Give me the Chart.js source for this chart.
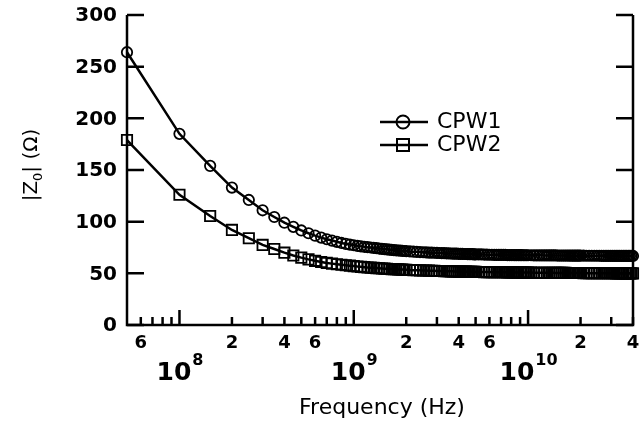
<!DOCTYPE html>
<html>
<head>
<meta charset="utf-8">
<script src="https://cdn.jsdelivr.net/npm/chart.js@4.4.0/dist/chart.umd.min.js"></script>
<style>
body { margin: 0; background: #fff; }
#wrap { width: 644px; height: 421px; }
</style>
</head>
<body>
<div id="wrap"><canvas id="myChart" width="644" height="421"></canvas></div>
<script>
// frequencies in MHz
const freqMHz = [
  50,100,150,200,250,300,350,400,450,500,550,600,650,700,750,800,850,900,950,1000,
  1050,1100,1150,1200,1250,1300,1350,1400,1450,1500,1550,1600,1650,1700,1750,1800,1850,1900,1950,2000,
  2100,2200,2300,2400,2500,2600,2700,2800,2900,3000,3100,3200,3300,3400,3500,3600,3700,3800,3900,4000,
  4100,4200,4300,4400,4500,4600,4700,4800,4900,5000,
  5200,5400,5600,5800,6000,6200,6400,6600,6800,7000,7200,7400,7600,7800,8000,8200,8400,8600,8800,9000,
  9200,9400,9600,9800,10000,
  10400,10800,11200,11600,12000,12400,12800,13200,13600,14000,14400,14800,15200,15600,16000,16400,
  16800,17200,17600,18000,18400,18800,19200,19600,20000,
  20800,21600,22400,23200,24000,24800,25600,26400,27200,28000,28800,29600,30400,31200,32000,32800,
  33600,34400,35200,36000,36800,37600,38400,39200,40000
];

const cpw1 = [
  264,185,154,133,121,111,104.5,99,95,91.5,88.8,86.5,84.6,83,81.7,80.5,79.4,78.5,77.8,77.2,
  76.6,76.1,75.7,75.3,75,74.6,74.3,74,73.7,73.4,73.2,73,72.7,72.5,72.3,72.1,71.9,71.8,71.6,71.5,
  71.2,71,70.8,70.6,70.4,70.3,70.1,70,69.9,69.8,69.7,69.6,69.5,69.4,69.3,69.2,69.1,69,69,68.9,
  68.8,68.8,68.7,68.7,68.6,68.6,68.5,68.5,68.4,68.4,
  68.3,68.3,68.2,68.1,68,68,67.9,67.9,67.9,67.8,67.8,67.8,67.7,67.7,67.7,67.7,67.6,67.6,67.6,67.6,
  67.6,67.5,67.5,67.5,67.5,
  67.5,67.4,67.4,67.4,67.4,67.3,67.3,67.3,67.3,67.3,67.3,67.2,67.2,67.2,67.2,67.2,
  67.2,67.2,67.1,67.1,67.1,67.1,67.1,67.1,67.1,
  67.1,67,67,67,67,67,67,66.9,66.9,66.9,66.9,66.9,66.9,66.9,66.9,66.8,
  66.8,66.8,66.8,66.8,66.8,66.8,66.8,66.8,66.8
];

const cpw2 = [
  179,126,105.5,92,84,77.5,73.5,70,67.3,65.2,63.5,62.1,61,60.1,59.4,58.8,58.3,57.8,57.4,57,
  56.6,56.3,56,55.7,55.5,55.3,55.1,54.9,54.7,54.5,54.4,54.2,54.1,54,53.9,53.8,53.7,53.6,53.5,53.4,
  53.2,53.1,53,52.9,52.8,52.7,52.6,52.5,52.4,52.3,52.2,52.2,52.1,52,52,51.9,51.9,51.8,51.8,51.7,
  51.7,51.6,51.6,51.6,51.5,51.5,51.5,51.4,51.4,51.4,
  51.3,51.3,51.2,51.2,51.2,51.1,51.1,51.1,51,51,51,51,50.9,50.9,50.9,50.9,50.8,50.8,50.8,50.8,
  50.8,50.7,50.7,50.7,50.7,
  50.7,50.6,50.6,50.6,50.6,50.5,50.5,50.5,50.5,50.5,50.4,50.4,50.4,50.4,50.4,50.4,
  50.3,50.3,50.3,50.3,50.3,50.3,50.3,50.3,50.3,
  50.2,50.2,50.2,50.2,50.2,50.2,50.1,50.1,50.1,50.1,50.1,50.1,50.1,50.1,50,50,
  50,50,50,50,50,50,50,50,50
];

const yTicks = [0, 50, 100, 150, 200, 250, 300];
const xMajor = [1e8, 1e9, 1e10];
const xMajorExp = ['8', '9', '10'];
const xMinor = [6e7,7e7,8e7,9e7,2e8,3e8,4e8,5e8,6e8,7e8,8e8,9e8,
                2e9,3e9,4e9,5e9,6e9,7e9,8e9,9e9,2e10,3e10,4e10];
const xMinorLabelVals = [6e7, 2e8, 4e8, 6e8, 2e9, 4e9, 6e9, 2e10, 4e10];
const xMinorLabels = ['6', '2', '4', '6', '2', '4', '6', '2', '4'];

function toPoints(values) {
    return values.map((v, i) => ({ x: freqMHz[i] * 1e6, y: v }));
}

const FONT = 'DejaVu Sans';

const axesPlugin = {
    id: 'paperAxes',
    afterDraw(chart) {
        const c = chart.ctx;
        const xs = chart.scales.x;
        const ys = chart.scales.y;
        const a = chart.chartArea;
        c.save();
        c.strokeStyle = '#000';
        c.fillStyle = '#000';
        c.lineWidth = 2.5;
        c.lineCap = 'butt';

        // frame: left, right, bottom (no top line)
        c.beginPath();
        c.moveTo(a.left, a.top); c.lineTo(a.left, a.bottom); c.lineTo(a.right, a.bottom); c.lineTo(a.right, a.top);
        c.stroke();

        // y ticks both sides
        yTicks.forEach(v => {
            const y = ys.getPixelForValue(v);
            c.beginPath();
            c.moveTo(a.left, y); c.lineTo(a.left + 17, y);
            c.moveTo(a.right, y); c.lineTo(a.right - 17, y);
            c.stroke();
        });

        // x ticks
        xMajor.forEach(v => {
            const x = xs.getPixelForValue(v);
            c.beginPath(); c.moveTo(x, a.bottom); c.lineTo(x, a.bottom - 15); c.stroke();
        });
        xMinor.forEach(v => {
            const x = xs.getPixelForValue(v);
            c.beginPath(); c.moveTo(x, a.bottom); c.lineTo(x, a.bottom - 8); c.stroke();
        });

        // y labels
        c.font = 'bold 20px "' + FONT + '"';
        c.textAlign = 'right';
        c.textBaseline = 'middle';
        yTicks.forEach(v => {
            c.fillText(String(v), a.left - 10, ys.getPixelForValue(v) + 1);
        });

        // x minor labels
        c.font = 'bold 18px "' + FONT + '"';
        c.textAlign = 'center';
        c.textBaseline = 'alphabetic';
        xMinorLabelVals.forEach((v, i) => {
            c.fillText(xMinorLabels[i], xs.getPixelForValue(v), a.bottom + 23);
        });

        // x decade labels with superscript
        const bigF = 'bold 25px "' + FONT + '"';
        const supF = 'bold 16px "' + FONT + '"';
        xMajor.forEach((v, i) => {
            const x = xs.getPixelForValue(v);
            c.font = bigF;
            const w1 = c.measureText('10').width;
            c.font = supF;
            const w2 = c.measureText(xMajorExp[i]).width;
            const start = x - (w1 + w2) / 2;
            c.textAlign = 'left';
            c.font = bigF;
            c.fillText('10', start, a.bottom + 55);
            c.font = supF;
            c.fillText(xMajorExp[i], start + w1 + 1, a.bottom + 40);
        });

        // x title
        c.font = '22px "' + FONT + '"';
        c.textAlign = 'center';
        c.fillText('Frequency (Hz)', 382, 414);

        // y title, rotated
        c.save();
        c.translate(37, 165);
        c.rotate(-Math.PI / 2);
        const big = '20px "' + FONT + '"';
        const small = '13px "' + FONT + '"';
        c.font = big; const p1 = c.measureText('|Z').width;
        c.font = small; const p2 = c.measureText('0').width;
        c.font = big; const p3 = c.measureText('| (\u03A9)').width;
        let sx = -(p1 + p2 + p3) / 2;
        c.textAlign = 'left';
        c.font = big; c.fillText('|Z', sx, 0); sx += p1;
        c.font = small; c.fillText('0', sx, 5); sx += p2;
        c.font = big; c.fillText('| (\u03A9)', sx, 0);
        c.restore();

        // legend
        const lx0 = 380, lx1 = 428, mx = 403;
        const ly = [122, 145];
        c.lineWidth = 2.5;
        ly.forEach(y => {
            c.beginPath(); c.moveTo(lx0, y); c.lineTo(lx1, y); c.stroke();
        });
        c.lineWidth = 2;
        c.beginPath(); c.arc(mx, ly[0], 6.5, 0, Math.PI * 2); c.stroke();
        c.strokeRect(mx - 6, ly[1] - 6, 12, 12);
        c.font = '22px "' + FONT + '"';
        c.textAlign = 'left';
        c.textBaseline = 'middle';
        c.fillText('CPW1', 437, ly[0]);
        c.fillText('CPW2', 437, ly[1]);

        c.restore();
    }
};

const ctx = document.getElementById('myChart').getContext('2d');
new Chart(ctx, {
    type: 'line',
    data: {
        datasets: [{
            label: 'CPW1',
            data: toPoints(cpw1),
            borderColor: '#000',
            borderWidth: 2.5,
            pointStyle: 'circle',
            pointRadius: 5.2,
            pointBorderWidth: 1.8,
            pointBorderColor: '#000',
            pointBackgroundColor: 'rgba(0,0,0,0)',
            tension: 0,
            clip: false
        }, {
            label: 'CPW2',
            data: toPoints(cpw2),
            borderColor: '#000',
            borderWidth: 2.5,
            pointStyle: 'rect',
            pointRadius: 7.3,
            pointBorderWidth: 1.8,
            pointBorderColor: '#000',
            pointBackgroundColor: 'rgba(0,0,0,0)',
            tension: 0,
            clip: false
        }]
    },
    options: {
        responsive: false,
        animation: false,
        layout: { padding: { left: 127, right: 11, top: 15, bottom: 96 } },
        scales: {
            x: { type: 'logarithmic', min: 5e7, max: 4e10, display: false },
            y: { type: 'linear', min: 0, max: 300, display: false }
        },
        plugins: {
            legend: { display: false },
            tooltip: { enabled: false }
        }
    },
    plugins: [axesPlugin]
});
</script>
</body>
</html>
